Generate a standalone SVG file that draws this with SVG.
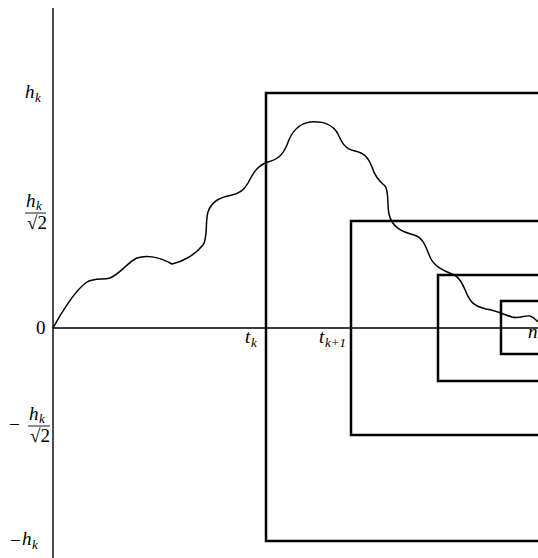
<svg xmlns="http://www.w3.org/2000/svg" width="538" height="558" viewBox="0 0 538 558">
<style>
.ax{stroke:#000;stroke-width:1.4;fill:none}
.box{stroke:#000;stroke-width:2.5;fill:none}
.curve{stroke:#000;stroke-width:1.5;fill:none;stroke-linejoin:round}
.it{font-style:italic}
.lab{font-size:19px}
.sub{font-size:13px}
</style>
<rect width="538" height="558" fill="#fff"/>
<g id="axes">
<line class="ax" x1="53" y1="8" x2="53" y2="558"/>
<line class="ax" x1="53" y1="328" x2="538" y2="328"/>
</g>
<g id="boxes">
<path id="box1" class="box" d="M540,93 H266 V541 H540"/>
<path id="box2" class="box" d="M540,221 H351 V435 H540"/>
<path id="box3" class="box" d="M540,275 H438 V381 H540"/>
<path id="box4" class="box" d="M540,301 H501 V354 H540"/>
</g>
<g id="connectors">
<path id="path" class="curve" d="M53,328 C60,315 75,290 87,282 C95,278 103,280 110,278 C120,274 128,262 137,258 C145,255 158,256 172,264 C182,262 195,255 203,245 C208,238 205,222 208,212 C212,200 222,197 232,195 C240,193 244,190 248,183 C253,173 258,165 268,162 C278,159 282,156 287,145 C291,133 297,124 310,122 C325,121 333,125 338,134 C342,143 345,149 355,151 C364,153 368,157 372,167 C375,177 380,182 385,186 C389,190 387,205 389,214 C392,228 403,232 414,235 C424,238 426,248 430,257 C434,266 442,270 452,274 C460,277 463,285 466,292 C470,302 474,306 486,309 C498,311 505,315 512,317 C520,319 525,315 530,316 C534,317 536,320 538,322"/>
</g>
<g id="labels" font-family="'Liberation Serif', 'Times New Roman', serif" fill="#000">
<g id="lab-hk"><text class="it lab" x="25" y="98">h</text><text class="it sub" x="35" y="102">k</text></g>
<g id="lab-hk-r2">
<text class="it lab" x="26" y="207">h</text><text class="it sub" x="36" y="210">k</text>
<line x1="25" y1="213" x2="46" y2="213" stroke="#000" stroke-width="0.9"/>
<text class="lab" x="27" y="229">√2</text>
</g>
<g id="lab-0"><text class="lab" x="36" y="334">0</text></g>
<g id="lab-mhk-r2">
<text x="9" y="431" font-size="19" textLength="11" lengthAdjust="spacingAndGlyphs">−</text>
<text class="it lab" x="29" y="420">h</text><text class="it sub" x="39" y="423">k</text>
<line x1="28" y1="426" x2="50" y2="426" stroke="#000" stroke-width="0.9"/>
<text class="lab" x="30" y="442">√2</text>
</g>
<g id="lab-mhk"><text x="10" y="547" font-size="19" textLength="11" lengthAdjust="spacingAndGlyphs">−</text><text class="it lab" x="22" y="545">h</text><text class="it sub" x="32" y="549">k</text></g>
<g id="lab-tk"><text class="it lab" x="245" y="343">t</text><text class="it sub" x="251" y="347">k</text></g>
<g id="lab-tk1"><text class="it lab" x="319" y="343">t</text><text class="it sub" x="325" y="347">k+1</text></g>
<g id="lab-n"><text class="it lab" x="528" y="338">n</text></g>
</g>
</svg>
